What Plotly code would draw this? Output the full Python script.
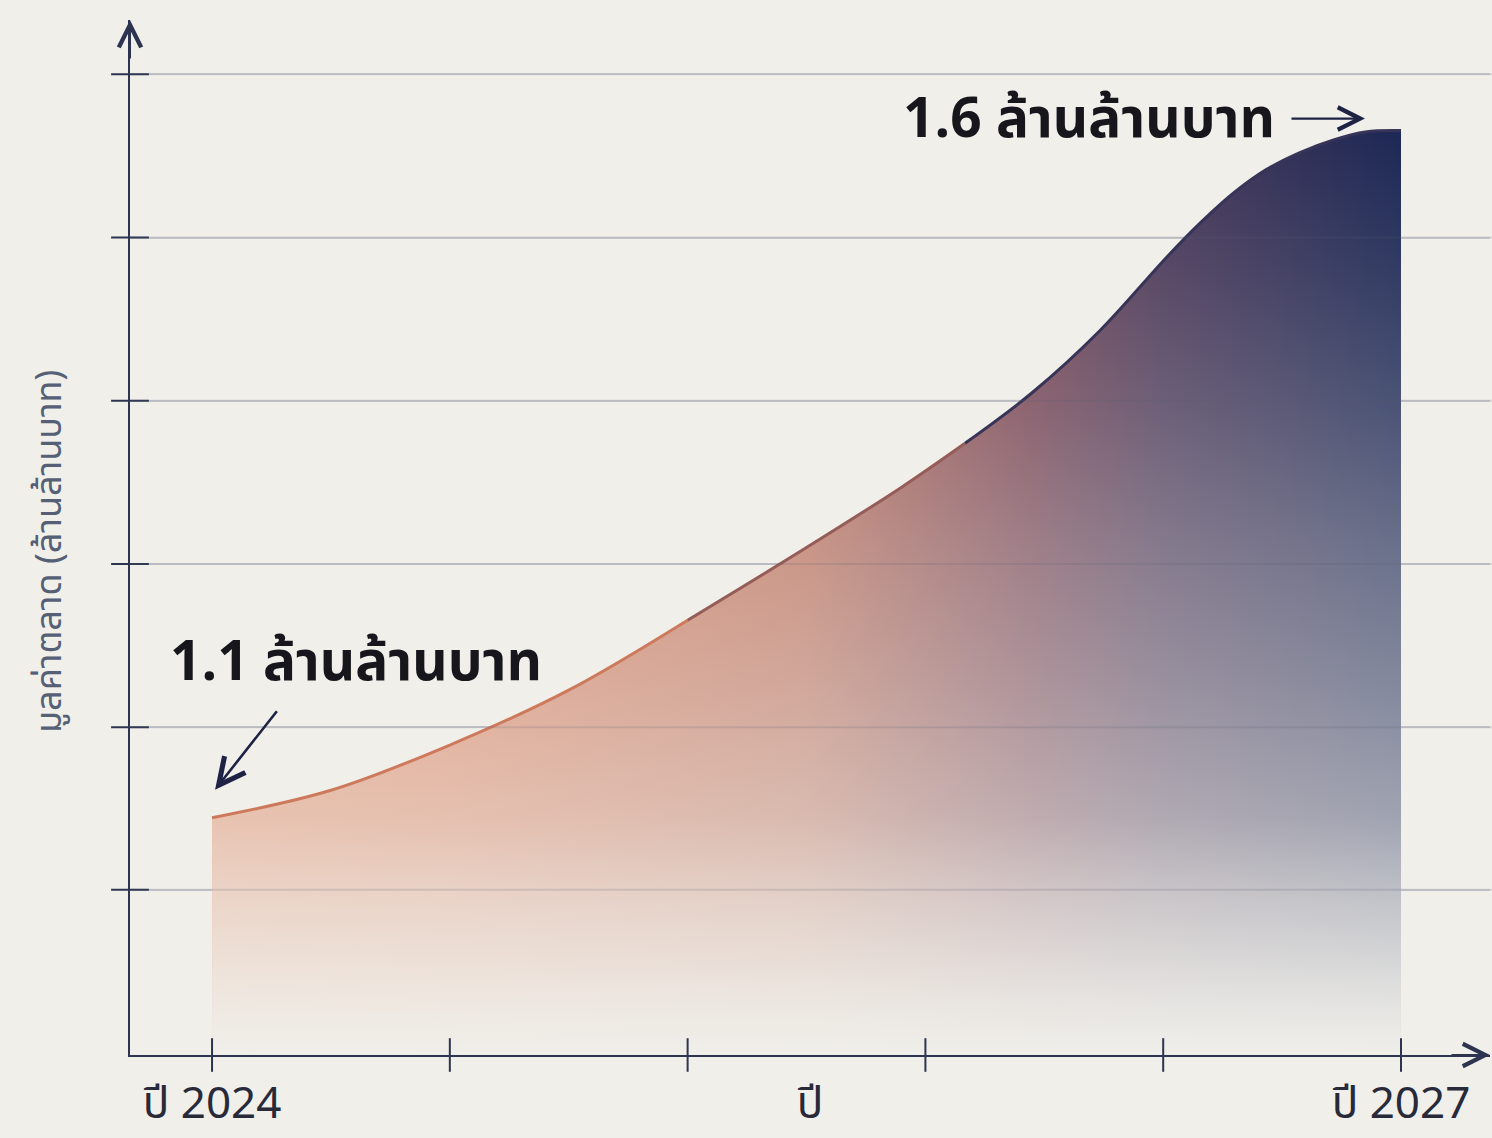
import plotly.graph_objects as go

# ---------------- data ----------------
years = [2024.0, 2024.3, 2024.6, 2024.9, 2025.2, 2025.5, 2025.74, 2025.9, 2026.07, 2026.24,
         2026.41, 2026.495, 2026.58, 2026.66, 2026.745, 2026.83, 2026.91, 2027.0]
values = [1.100, 1.120, 1.153, 1.193, 1.244, 1.297, 1.341, 1.373, 1.410, 1.455,
          1.509, 1.534, 1.556, 1.5725, 1.5850, 1.5942, 1.600, 1.601]

x_tick_vals = [2024.0, 2024.6, 2025.2, 2025.8, 2026.4, 2027.0]
x_tick_text = ["ปี 2024", "", "", "", "", "ปี 2027"]
y_grid_vals = [1.0475, 1.166, 1.285, 1.404, 1.523, 1.642]

x_title = "ปี"
y_title = "มูลค่าตลาด (ล้านล้านบาท)"
start_label = "1.1 ล้านล้านบาท"
end_label = "1.6 ล้านล้านบาท"

# ---------------- styling ----------------
BG = "rgb(240,239,234)"
NAVY = "rgb(45,52,80)"
GRID = "rgb(208,209,212)"
FONT = "Noto Sans Thai, Noto Sans, Liberation Sans, sans-serif"
TICKFONT = "Liberation Sans Narrow, Noto Sans Thai, Liberation Sans, sans-serif"
SPLINE = dict(shape="spline", smoothing=1.0)

W, H = 1492, 1138
x_range = [2023.793, 2027.2246]
y_range = [0.927, 1.6816]

fig = go.Figure()

# main area with horizontal gradient (orange -> navy)
fig.add_trace(go.Scatter(
    x=years, y=values, mode="lines", line=dict(width=0, **SPLINE),
    fill="tozeroy",
    fillgradient=dict(
        type="horizontal",
        colorscale=[
            [0.0, "rgb(220,122,82)"],
            [0.2, "rgb(212,115,80)"],
            [0.5, "rgb(180,100,80)"],
            [0.69, "rgb(112,62,80)"],
            [0.8, "rgb(72,55,88)"],
            [1.0, "rgb(28,40,85)"],
        ],
    ),
    hoverinfo="skip", showlegend=False,
))

# vertical fade toward background at the bottom
fig.add_trace(go.Scatter(
    x=years, y=values, mode="lines", line=dict(width=0, **SPLINE),
    fill="tozeroy",
    fillgradient=dict(
        type="vertical",
        start=0.927, stop=1.60,
        colorscale=[
            [0.0, "rgba(240,239,234,1.0)"],
            [0.064, "rgba(240,239,234,0.93)"],
            [0.168, "rgba(240,239,234,0.78)"],
            [0.257, "rgba(240,239,234,0.62)"],
            [0.406, "rgba(240,239,234,0.48)"],
            [0.554, "rgba(240,239,234,0.36)"],
            [0.703, "rgba(240,239,234,0.22)"],
            [0.851, "rgba(240,239,234,0.1)"],
            [1.0, "rgba(240,239,234,0.0)"],
        ],
    ),
    hoverinfo="skip", showlegend=False,
))

# curve outline, colour shifting along the curve
segments = [(0, 5, "rgb(205,122,92)"), (4, 8, "rgb(150,92,88)"), (7, len(years), "rgb(55,52,88)")]
for a, b, c in segments:
    fig.add_trace(go.Scatter(
        x=years[a:b], y=values[a:b], mode="lines",
        line=dict(color=c, width=3, **SPLINE),
        hoverinfo="skip", showlegend=False,
    ))

# tick marks crossing the axes
fig.add_trace(go.Scatter(
    x=x_tick_vals, y=[y_range[0]] * len(x_tick_vals), mode="markers",
    marker=dict(symbol="line-ns-open", size=24, color=NAVY, line=dict(color=NAVY, width=2)),
    cliponaxis=False, hoverinfo="skip", showlegend=False,
))
fig.add_trace(go.Scatter(
    x=[x_range[0]] * len(y_grid_vals), y=y_grid_vals, mode="markers",
    marker=dict(symbol="line-ew-open", size=27, color=NAVY, line=dict(color=NAVY, width=2)),
    cliponaxis=False, hoverinfo="skip", showlegend=False,
))

# faint grid lines showing through the filled area
shapes = [
    dict(type="line", xref="paper", yref="y", x0=130 / W, x1=1.0, y0=v, y1=v,
         line=dict(color="rgba(90,95,110,0.18)", width=2), layer="above")
    for v in y_grid_vals
]

ARROW = "rgb(30,35,70)"
annotations = [
    # axis arrows
    dict(xref="paper", yref="paper", x=130 / W, y=(H - 20) / H, ax=0, ay=40,
         text="", showarrow=True, arrowhead=5, arrowsize=2.2, arrowwidth=2, arrowcolor=NAVY),
    dict(xref="paper", yref="paper", x=1490 / W, y=(H - 1055) / H, ax=-40, ay=0,
         text="", showarrow=True, arrowhead=5, arrowsize=2.2, arrowwidth=2, arrowcolor=NAVY),
    # start label
    dict(xref="x", yref="y", x=years[0], y=values[0], xanchor="left", yanchor="middle",
         xshift=-44, yshift=154, text="<b>" + start_label + "</b>", showarrow=False,
         font=dict(family=FONT, size=55, color="rgb(22,22,28)")),
    dict(xref="x", yref="y", x=years[0], y=values[0], xshift=3, yshift=28,
         ax=63, ay=-80, text="", showarrow=True, arrowhead=5, arrowsize=2.0,
         arrowwidth=2.6, arrowcolor=ARROW),
    # end label
    dict(xref="x", yref="y", x=years[-1], y=values[-1], xanchor="right", yanchor="middle",
         xshift=-124, yshift=10, text="<b>" + end_label + "</b>", showarrow=False,
         font=dict(family=FONT, size=55, color="rgb(22,22,28)")),
    dict(xref="x", yref="y", x=years[-1], y=values[-1], xshift=-36, yshift=12,
         ax=-75, ay=0, text="", showarrow=True, arrowhead=5, arrowsize=2.0,
         arrowwidth=2.2, arrowcolor=ARROW),
    # y-axis title
    dict(xref="paper", yref="paper", x=50 / W, y=(H - 552) / H, textangle=-90,
         text=y_title, showarrow=False, xanchor="center", yanchor="middle",
         font=dict(family=FONT, size=36, color="rgb(85,95,118)")),
]

fig.update_layout(
    width=W, height=H,
    margin=dict(l=0, r=0, t=0, b=0),
    paper_bgcolor=BG, plot_bgcolor=BG,
    showlegend=False,
    annotations=annotations,
    shapes=shapes,
    xaxis=dict(
        domain=[130 / W, 1490 / W], range=x_range,
        tickvals=x_tick_vals, ticktext=x_tick_text, ticks="",
        tickfont=dict(family=TICKFONT, size=44, color="rgb(40,42,58)"),
        ticklabelstandoff=8,
        showgrid=False, zeroline=False,
        showline=True, linecolor=NAVY, linewidth=2,
        title=dict(text=x_title, font=dict(family=TICKFONT, size=44, color="rgb(40,42,58)"), standoff=8),
        automargin=False, fixedrange=True,
    ),
    yaxis=dict(
        domain=[(H - 1055) / H, (H - 20) / H], range=y_range,
        tickvals=y_grid_vals, showticklabels=False, ticks="",
        showgrid=True, gridcolor=GRID, gridwidth=2,
        zeroline=False,
        showline=True, linecolor=NAVY, linewidth=2,
        automargin=False, fixedrange=True,
    ),
)

fig.write_html("out.html")
